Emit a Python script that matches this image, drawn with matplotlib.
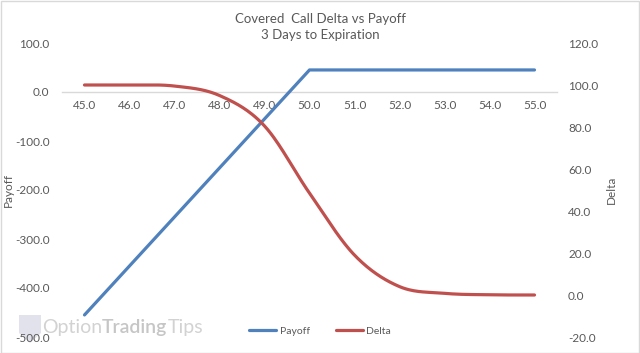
import matplotlib
matplotlib.use("Agg")
import matplotlib.pyplot as plt
import numpy as np
from matplotlib.patches import Rectangle, Polygon

plt.rcParams['font.family'] = ['Lato', 'DejaVu Sans']

categories = ["45.0", "46.0", "47.0", "48.0", "49.0", "50.0", "51.0", "52.0", "53.0", "54.0", "55.0"]
payoff = [-455, -355, -255, -155, -55, 45, 45, 45, 45, 45, 45]
delta = [100.0, 100.0, 99.5, 95.0, 80.5, 48.5, 19.0, 4.0, 0.8, 0.1, 0.0]

title = "Covered  Call Delta vs Payoff\n3 Days to Expiration"

BLUE = "#4f81bd"
RED = "#c0504d"
TXT = "#595959"


def smooth(xs, ys, n=30):
    # Excel-like smoothing: cubic Bezier through points with Catmull-Rom control points
    xs = np.asarray(xs, float)
    ys = np.asarray(ys, float)
    px, py = [], []
    m = len(xs)
    for i in range(m - 1):
        x0, y0 = xs[max(i - 1, 0)], ys[max(i - 1, 0)]
        x1, y1 = xs[i], ys[i]
        x2, y2 = xs[i + 1], ys[i + 1]
        x3, y3 = xs[min(i + 2, m - 1)], ys[min(i + 2, m - 1)]
        c1x, c1y = x1 + (x2 - x0) / 6, y1 + (y2 - y0) / 6
        c2x, c2y = x2 - (x3 - x1) / 6, y2 - (y3 - y1) / 6
        t = np.linspace(0, 1, n)
        bx = (1 - t) ** 3 * x1 + 3 * (1 - t) ** 2 * t * c1x + 3 * (1 - t) * t ** 2 * c2x + t ** 3 * x2
        by = (1 - t) ** 3 * y1 + 3 * (1 - t) ** 2 * t * c1y + 3 * (1 - t) * t ** 2 * c2y + t ** 3 * y2
        px.extend(bx)
        py.extend(by)
    return np.array(px), np.array(py)


fig = plt.figure(figsize=(6.4, 3.53), dpi=100)
ax = fig.add_axes([62 / 640, 1 - 337 / 353, (557 - 62) / 640, (337 - 43) / 353])
ax2 = ax.twinx()
ax.patch.set_visible(False)
ax2.patch.set_visible(False)

x = np.arange(len(categories))
lp, = ax.plot(x, payoff, color=BLUE, lw=2.3, solid_capstyle='round', zorder=3)
sx, sy = smooth(x, delta)
ld, = ax2.plot(sx, sy, color=RED, lw=2.3, solid_capstyle='round', zorder=3)

ax.set_xlim(-0.5, len(categories) - 0.5)
ax.set_ylim(-500, 100)
ax.set_yticks(np.arange(-500, 101, 100))
ax.set_yticklabels([f"{v:.1f}" for v in np.arange(-500, 101, 100)])
ax2.set_ylim(-20, 120)
ax2.set_yticks(np.arange(-20, 121, 20))
ax2.set_yticklabels([f"{v:.1f}" for v in np.arange(-20, 121, 20)])

ax.set_xticks(x)
ax.set_xticklabels(categories)
for s in ['top', 'right', 'left']:
    ax.spines[s].set_visible(False)
    ax2.spines[s].set_visible(False)
ax2.spines['bottom'].set_visible(False)
ax.spines['bottom'].set_position(('data', 0))
ax.spines['bottom'].set_color('#d9d9d9')
ax.spines['bottom'].set_linewidth(1.0)
ax.spines['bottom'].set_zorder(1)

ax.tick_params(axis='x', length=0, pad=6, labelsize=8.5, labelcolor=TXT)
ax.tick_params(axis='y', length=0, pad=9, labelsize=8.5, labelcolor=TXT)
ax2.tick_params(axis='y', length=0, pad=8, labelsize=8.5, labelcolor=TXT)

ax.set_ylabel("Payoff", fontsize=8.5, color=TXT)
ax.yaxis.set_label_coords((14 - 62) / 495, 0.5)
ax2.set_ylabel("Delta", fontsize=8.5, color=TXT)
ax2.yaxis.set_label_coords((606 - 62) / 495, 0.5)

fig.text(0.5, 1 - 27 / 353, title, ha='center', va='center', fontsize=9.5,
         color=TXT, linespacing=1.35)

# legend
leg = fig.legend([lp, ld], ["Payoff", "Delta"], loc='center', bbox_to_anchor=(0.5, 1 - 331 / 353),
                 ncol=2, frameon=False, fontsize=7.5, handlelength=2.6, columnspacing=2.5,
                 handletextpad=0.3, labelcolor=TXT)

# watermark (behind the axes)
wy = 1 - 327 / 353
w1 = fig.text(42 / 640, wy, "Option", fontsize=14, color='#d2d2d2', ha='left', va='center', zorder=-2)
w2 = fig.text(0, 0, "Trading", fontsize=14, color='#c6c6c6', ha='left', va='center',
              fontweight='semibold', zorder=-2)
w3 = fig.text(0, 0, "Tips", fontsize=14, color='#d2d2d2', ha='left', va='center', zorder=-2)
fig.canvas.draw()
r = fig.canvas.get_renderer()
b1 = w1.get_window_extent(r)
w2.set_position((b1.x1 / fig.bbox.width, wy))
b2 = w2.get_window_extent(r)
w3.set_position((b2.x1 / fig.bbox.width, wy))

shield = Polygon([[19 / 640, 1 - 315 / 353], [41 / 640, 1 - 315 / 353], [41 / 640, 1 - 333 / 353],
                  [30 / 640, 1 - 343 / 353], [19 / 640, 1 - 333 / 353]],
                 closed=True, transform=fig.transFigure, facecolor='#e2e2ec', edgecolor='none', zorder=-3)
fig.patches.append(shield)

# chart border
fig.patches.append(Rectangle((0.5 / 640, 0.5 / 353), 638.5 / 640, 351.5 / 353, transform=fig.transFigure,
                             fill=False, edgecolor='#d9d9d9', lw=1.0))

fig.savefig("out.png", dpi=100)
